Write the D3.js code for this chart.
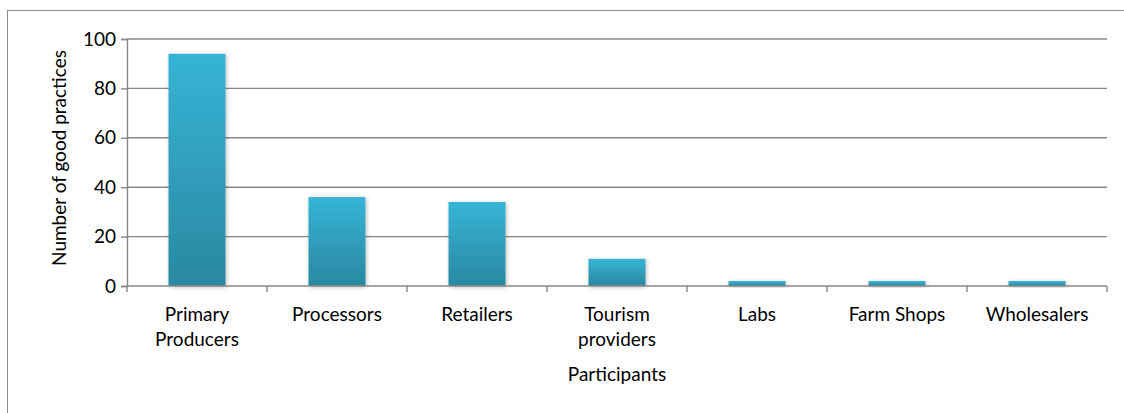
<!DOCTYPE html>
<html>
<head>
<meta charset="utf-8">
<script src="https://cdn.jsdelivr.net/npm/d3@7"></script>
<style>
  html, body { margin: 0; padding: 0; background: #fff; }
  svg { display: block; }
  text { font-family: Lato, "Open Sans", sans-serif; fill: #000; }
</style>
</head>
<body>
<svg id="chart" width="1124" height="413"></svg>
<script>
// Good practices per type of participant
const categories = [
  ["Primary", "Producers"],
  ["Processors"],
  ["Retailers"],
  ["Tourism", "providers"],
  ["Labs"],
  ["Farm Shops"],
  ["Wholesalers"]
];
const values = [94, 36, 34, 11, 2, 2, 2];
const yTicks = [0, 20, 40, 60, 80, 100];
const xTitle = "Participants";
const yTitle = "Number of good practices";

const svg = d3.select("#chart");
const W = 1124, H = 413;
const plot = { left: 127, right: 1107, top: 39, bottom: 286 };
const FONT = 19;
const AXIS_GREY = "#878787";

// Outer chart frame (extends past the right and bottom edges)
svg.append("rect")
  .attr("x", 7.5).attr("y", 10.5)
  .attr("width", W + 20).attr("height", H + 20)
  .attr("fill", "none").attr("stroke", "#8c8c8c").attr("stroke-width", 1);

const defs = svg.append("defs");
const grad = defs.append("linearGradient")
  .attr("id", "barFill").attr("x1", 0).attr("y1", 0).attr("x2", 0).attr("y2", 1);
grad.append("stop").attr("offset", "0%").attr("stop-color", "#36b4d6");
grad.append("stop").attr("offset", "100%").attr("stop-color", "#2a88a1");

const shadow = defs.append("filter").attr("id", "barShadow")
  .attr("x", "-30%").attr("y", "-30%").attr("width", "160%").attr("height", "160%");
shadow.append("feDropShadow")
  .attr("dx", 1).attr("dy", 1).attr("stdDeviation", 2)
  .attr("flood-color", "#000").attr("flood-opacity", 0.28);

const idx = categories.map((_, i) => i);
const x = d3.scaleBand().domain(idx).range([plot.left, plot.right]).paddingInner(0.593).paddingOuter(0.2965);
const xOuter = d3.scaleBand().domain(idx).range([plot.left, plot.right]);
const y = d3.scaleLinear().domain([0, 100]).range([plot.bottom, plot.top]);

// Horizontal gridlines
svg.append("g")
  .selectAll("line")
  .data(yTicks.filter(t => t > 0))
  .join("line")
  .attr("x1", plot.left).attr("x2", plot.right)
  .attr("y1", d => y(d)).attr("y2", d => y(d))
  .attr("stroke", AXIS_GREY).attr("stroke-width", 1.4);

// Y axis
const yAxis = svg.append("g")
  .attr("transform", `translate(${plot.left},0)`)
  .call(d3.axisLeft(y).tickValues(yTicks).tickSize(6).tickPadding(5).tickFormat(d3.format("d")));
yAxis.select(".domain").attr("stroke", AXIS_GREY).attr("stroke-width", 1.4);
yAxis.selectAll(".tick line").attr("stroke", AXIS_GREY).attr("stroke-width", 1.4);
yAxis.selectAll(".tick text").attr("font-size", FONT).attr("font-family", "Lato, sans-serif").attr("fill", "#000");

// Bars
svg.append("g")
  .selectAll("rect")
  .data(values)
  .join("rect")
  .attr("x", (d, i) => x(i))
  .attr("width", x.bandwidth())
  .attr("y", d => y(d))
  .attr("height", d => y(0) - y(d))
  .attr("fill", "url(#barFill)")
  .attr("filter", "url(#barShadow)");

// X axis baseline with category boundary ticks
const xg = svg.append("g");
xg.append("line")
  .attr("x1", plot.left).attr("x2", plot.right)
  .attr("y1", y(0)).attr("y2", y(0))
  .attr("stroke", AXIS_GREY).attr("stroke-width", 1.4);
xg.selectAll("line.tick")
  .data(idx.concat([idx.length]))
  .join("line")
  .attr("class", "tick")
  .attr("x1", i => i < idx.length ? xOuter(i) : plot.right)
  .attr("x2", i => i < idx.length ? xOuter(i) : plot.right)
  .attr("y1", y(0)).attr("y2", y(0) + 6)
  .attr("stroke", AXIS_GREY).attr("stroke-width", 1.4);

// Category labels
const labels = svg.append("g").selectAll("text")
  .data(categories)
  .join("text")
  .attr("text-anchor", "middle")
  .attr("font-size", FONT)
  .attr("x", (d, i) => xOuter(i) + xOuter.bandwidth() / 2)
  .attr("y", 321);
labels.selectAll("tspan")
  .data(d => d)
  .join("tspan")
  .attr("x", function() { return this.parentNode.getAttribute("x"); })
  .attr("dy", (d, j) => j === 0 ? 0 : 25)
  .text(d => d);

// Axis titles
svg.append("text")
  .attr("x", (plot.left + plot.right) / 2).attr("y", 381)
  .attr("text-anchor", "middle").attr("font-size", FONT)
  .text(xTitle);

svg.append("text")
  .attr("transform", `translate(66,158) rotate(-90)`)
  .attr("text-anchor", "middle").attr("font-size", FONT)
  .text(yTitle);
</script>
</body>
</html>
